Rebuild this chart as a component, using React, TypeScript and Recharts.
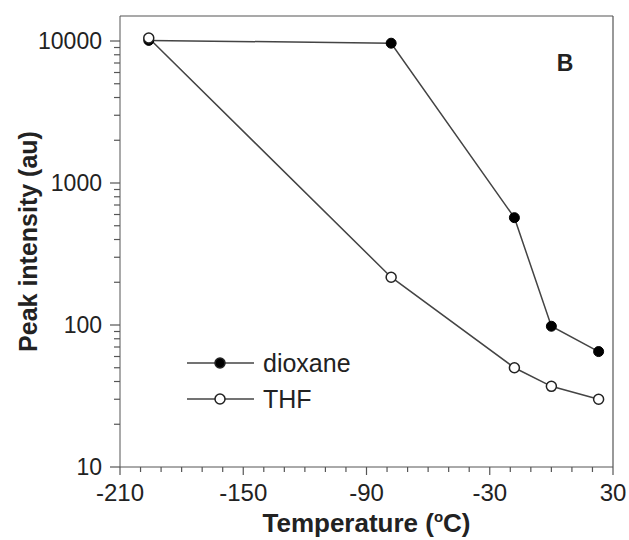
import { LineChart, Line, XAxis, YAxis, Legend, Customized, ReferenceLine } from 'recharts';

const temps = [-196, -78, -18, 0, 23];
const dioxane = [10100, 9650, 570, 98, 65];
const thf = [10500, 217, 50, 37, 30];

const xMajor = [-210, -150, -90, -30, 30];
const xTicks = [-210, -200, -190, -180, -170, -160, -150, -140, -130, -120, -110, -100, -90, -80, -70, -60, -50, -40, -30, -20, -10, 0, 10, 20, 30];
const yMajor = [10, 100, 1000, 10000];
const yTicks = [10, 20, 30, 40, 50, 60, 70, 80, 90, 100, 200, 300, 400, 500, 600, 700, 800, 900, 1000, 2000, 3000, 4000, 5000, 6000, 7000, 8000, 9000, 10000];

const series = [
  { key: 'dioxane', name: 'dioxane', fill: '#000' },
  { key: 'thf', name: 'THF', fill: '#fff' },
];

const data = temps.map((t, i) => ({ t, dioxane: dioxane[i], thf: thf[i] }));

const FONT = '"Liberation Sans", Arial, sans-serif';
const AXIS = '#555';

function XTick({ x, y, payload }: any) {
  const major = xMajor.includes(payload.value);
  return (
    <g>
      <line x1={x} x2={x} y1={y} y2={y + (major ? 8 : 5)} stroke={AXIS} strokeWidth={1.2} />
      {major && (
        <text x={x} y={y + 34} textAnchor="middle" fontSize={24} fontFamily={FONT} fill="#222">
          {payload.value}
        </text>
      )}
    </g>
  );
}

function YTick({ x, y, payload }: any) {
  const major = yMajor.includes(payload.value);
  return (
    <g>
      <line x1={x} x2={x - (major ? 10 : 6)} y1={y} y2={y} stroke={AXIS} strokeWidth={1.2} />
      {major && (
        <text x={x - 18} y={y + 8} textAnchor="end" fontSize={23} fontFamily={FONT} fill="#222">
          {payload.value}
        </text>
      )}
    </g>
  );
}

function YTitle({ viewBox }: any) {
  const cy = viewBox.y + viewBox.height / 2;
  return (
    <text x={28} y={cy} transform={`rotate(-90 28 ${cy})`} textAnchor="middle" dominantBaseline="central"
      fontSize={25} fontWeight="bold" fontFamily={FONT} fill="#222">
      Peak intensity (au)
    </text>
  );
}

function XTitle({ viewBox }: any) {
  const cx = viewBox.x + viewBox.width / 2;
  return (
    <text x={cx} y={532} textAnchor="middle" fontSize={26} fontWeight="bold" fontFamily={FONT} fill="#222">
      Temperature (<tspan dy={-10} fontSize={15}>o</tspan><tspan dy={10}>C)</tspan>
    </text>
  );
}

function LegendBox() {
  return (
    <svg width={220} height={80}>
      {series.map((s, i) => {
        const y = 18 + i * 36;
        return (
          <g key={s.key}>
            <line x1={0} x2={67} y1={y} y2={y} stroke="#444" strokeWidth={1.5} />
            <circle cx={33} cy={y} r={5} fill={s.fill} stroke="#222" strokeWidth={1.5} />
            <text x={76} y={y + 9} fontSize={25} fontFamily={FONT} fill="#222">{s.name}</text>
          </g>
        );
      })}
    </svg>
  );
}

export default function App() {
  return (
    <div style={{ position: 'absolute', left: 0, top: 0, width: 629, height: 540, overflow: 'visible' }}>
      <LineChart width={629} height={540} data={data} margin={{ top: 16, right: 16, left: 0, bottom: 0 }}
        style={{ overflow: 'visible' }}>
        <XAxis type="number" dataKey="t" domain={[-210, 30]} ticks={xTicks} interval={0} height={73}
          tickSize={0} tickMargin={0} tickLine={false} tick={<XTick />} stroke={AXIS} label={<XTitle />} />
        <YAxis scale="log" domain={[10, 15000]} ticks={yTicks} interval={0} width={120} allowDataOverflow
          tickSize={0} tickMargin={0} tickLine={false} tick={<YTick />} stroke={AXIS} label={<YTitle />} />
        <ReferenceLine y={15000} stroke={AXIS} strokeWidth={1.2} />
        <ReferenceLine x={30} stroke={AXIS} strokeWidth={1.2} />
        <Legend layout="vertical" verticalAlign="middle" align="center" content={<LegendBox />}
          wrapperStyle={{ left: 187, top: 345, width: 220, height: 80 }} />
        <Line dataKey="dioxane" type="linear" stroke="#444" strokeWidth={1.5} isAnimationActive={false}
          dot={{ r: 5, fill: '#000', stroke: '#000', strokeWidth: 1 }} activeDot={false} />
        <Line dataKey="thf" type="linear" stroke="#444" strokeWidth={1.5} isAnimationActive={false}
          dot={{ r: 5, fill: '#fff', stroke: '#222', strokeWidth: 1.5 }} activeDot={false} />
        <Customized component={() => (
          <text x={565} y={71} textAnchor="middle" fontSize={23} fontWeight="bold" fontFamily={FONT} fill="#222">B</text>
        )} />
      </LineChart>
    </div>
  );
}
